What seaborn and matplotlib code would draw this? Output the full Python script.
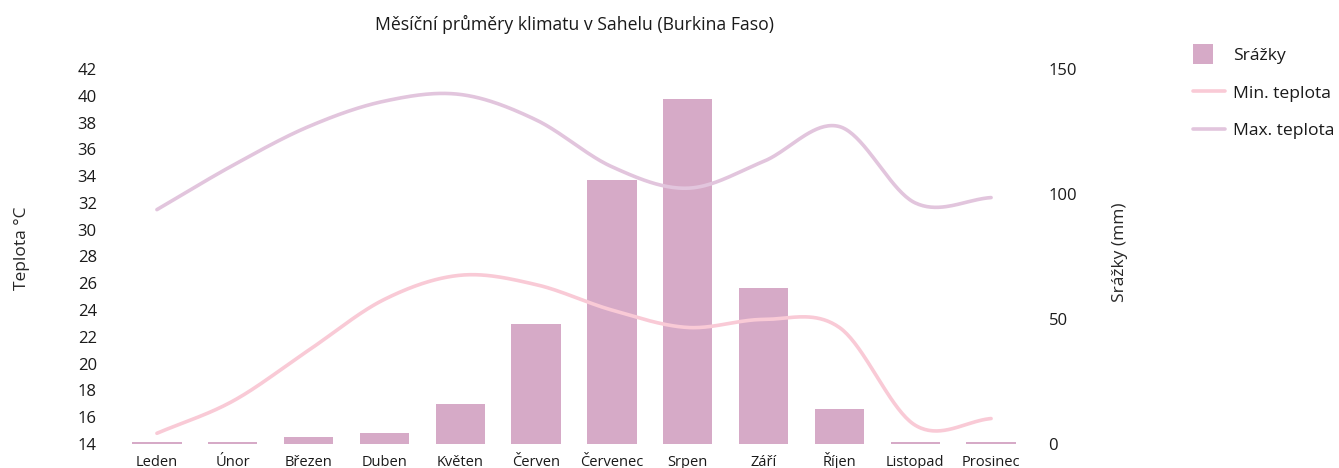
import numpy as np
import pandas as pd
import matplotlib
matplotlib.use("Agg")
import matplotlib.pyplot as plt
from matplotlib.lines import Line2D
from matplotlib.patches import Patch, Rectangle
from matplotlib.legend_handler import HandlerPatch
import seaborn as sns

# Monthly climate averages, Sahel (Burkina Faso)
months = ["Leden", "Únor", "Březen", "Duben", "Květen", "Červen",
          "Červenec", "Srpen", "Září", "Říjen", "Listopad", "Prosinec"]
precip_mm = [1, 1, 3, 4.5, 16, 48, 105.5, 138, 62.5, 14, 1, 1]
temp_min = [14.8, 17.2, 21.0, 24.8, 26.6, 25.9, 24.0, 22.7, 23.3, 22.7, 15.4, 15.9]
temp_max = [31.5, 34.8, 37.7, 39.6, 40.1, 38.2, 34.7, 33.1, 35.1, 37.7, 32.0, 32.4]

temp_ticks = list(range(14, 43, 2))
precip_ticks = [0, 50, 100, 150]

BAR_COLOR = "#d6aac7"
MIN_COLOR = "#f9cad6"
MAX_COLOR = "#e2c5dd"
TEXT_COLOR = "#1a1a1a"
FONT = ["Open Sans", "DejaVu Sans"]


def smooth(values, steps=40):
    """Catmull-Rom curve through equally spaced points."""
    y = np.asarray(values, dtype=float)
    n = len(y)
    m = np.empty(n)
    m[1:-1] = (y[2:] - y[:-2]) / 2.0
    m[0] = y[1] - y[0]
    m[-1] = y[-1] - y[-2]
    xs, ys = [], []
    for i in range(n - 1):
        t = np.linspace(0, 1, steps, endpoint=(i == n - 2))
        h00 = 2 * t**3 - 3 * t**2 + 1
        h10 = t**3 - 2 * t**2 + t
        h01 = -2 * t**3 + 3 * t**2
        h11 = t**3 - t**2
        xs.append(i + t)
        ys.append(h00 * y[i] + h10 * m[i] + h01 * y[i + 1] + h11 * m[i + 1])
    return np.concatenate(xs), np.concatenate(ys)


def square_handle(legend, orig_handle, xdescent, ydescent, width, height, fontsize):
    s = 14.5
    return Rectangle((-xdescent, -ydescent + height / 2 - s / 2), s, s)


sns.set_theme(style="white")
plt.rcParams["font.family"] = FONT
plt.rcParams["text.color"] = TEXT_COLOR
plt.rcParams["xtick.color"] = TEXT_COLOR
plt.rcParams["ytick.color"] = TEXT_COLOR

fig = plt.figure(figsize=(13.39, 4.68), dpi=100)
ax = fig.add_axes([119 / 1339, 1 - 444 / 468, 910 / 1339, (444 - 69) / 468])
ax2 = ax.twinx()

df = pd.DataFrame({"month": months, "precip": precip_mm})
sns.barplot(data=df, x="month", y="precip", ax=ax2, color=BAR_COLOR,
            saturation=1, width=0.65, edgecolor="none")

xs, ymin = smooth(temp_min)
_, ymax = smooth(temp_max)
curves = pd.DataFrame({"x": xs, "min": ymin, "max": ymax})
sns.lineplot(data=curves, x="x", y="min", ax=ax, color=MIN_COLOR, lw=2.6)
sns.lineplot(data=curves, x="x", y="max", ax=ax, color=MAX_COLOR, lw=2.6)

ax.set_zorder(ax2.get_zorder() + 1)
ax.patch.set_visible(False)

ax.set_xlim(-0.5, len(months) - 0.5)
ax.set_ylim(14, 42)
ax.set_yticks(temp_ticks)
ax2.set_ylim(0, 150)
ax2.set_yticks(precip_ticks)

ax.set_xticks(range(len(months)))
ax.set_xticklabels(months, fontsize=10.5, va="baseline")
ax.set_xlabel("")
ax2.set_xlabel("")

ax.tick_params(axis="y", length=0, pad=16, labelsize=12)
ax.tick_params(axis="x", length=0, pad=15.5)
ax2.tick_params(axis="y", length=0, pad=14, labelsize=12)

ax.set_ylabel("Teplota °C", fontsize=12.5, va="center", ha="center")
ax2.set_ylabel("Srážky (mm)", fontsize=12.5, va="center", ha="center")
ax.yaxis.set_label_coords((22 - 119) / 910, (444 - 248) / 375)
ax2.yaxis.set_label_coords((1120 - 119) / 910, (444 - 252) / 375)

for a in (ax, ax2):
    for s in a.spines.values():
        s.set_visible(False)
    a.grid(False)

ax.set_title("Měsíční průměry klimatu v Sahelu (Burkina Faso)", fontsize=12.7, pad=28)

handles = [
    Patch(facecolor=BAR_COLOR, edgecolor="none"),
    Line2D([], [], color=MIN_COLOR, lw=2.6),
    Line2D([], [], color=MAX_COLOR, lw=2.6),
]
fig.legend(handles, ["Srážky", "Min. teplota", "Max. teplota"],
           loc="upper left", bbox_to_anchor=(1193 / 1339, 1 - 48 / 468),
           frameon=False, fontsize=12.6, handlelength=1.8, handletextpad=0.5,
           labelspacing=1.2, borderpad=0, borderaxespad=0,
           handler_map={Patch: HandlerPatch(patch_func=square_handle)})

fig.savefig("out.png", dpi=100)
